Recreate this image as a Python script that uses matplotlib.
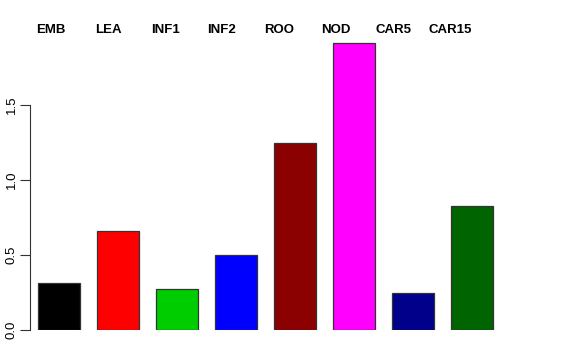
import matplotlib
matplotlib.use('Agg')
import matplotlib.pyplot as plt
import numpy as np

# tissue values
tissues = ['EMB', 'LEA', 'INF1', 'INF2', 'ROO', 'NOD', 'CAR5', 'CAR15']
values = [0.313, 0.66, 0.273, 0.503, 1.245, 1.913, 0.247, 0.827]
colors = ['black', 'red', '#00CD00', 'blue', '#8B0000', 'magenta', '#00008B', '#006400']
yticks = [0.0, 0.5, 1.0, 1.5]

plt.rcParams['font.family'] = ['Liberation Sans', 'DejaVu Sans']

W, H = 576, 360
fig = plt.figure(figsize=(W / 100, H / 100), dpi=100)

# axes placed in pixels: left spine at 30, y=0 at 330, y=2 at 30
left_px, right_px, bottom_px, top_px = 30, 546, 330, 30
ax = fig.add_axes([left_px / W, (H - bottom_px) / H,
                   (right_px - left_px) / W, (bottom_px - top_px) / H])

step = 59.0  # pixels per bar slot
x = np.arange(len(tissues))
ax.bar(x, values, width=0.71, color=colors, edgecolor='#333333', linewidth=0.9)
ax.set_xlim((left_px - 59) / step, (right_px - 59) / step)
ax.set_ylim(0, 2.0)

for s in ['top', 'right', 'bottom']:
    ax.spines[s].set_visible(False)
ax.spines['left'].set_bounds(0, 1.5)
ax.spines['left'].set_color('#333333')
ax.set_xticks([])
ax.set_yticks(yticks)
ax.set_yticklabels([f'{v:.1f}' for v in yticks], rotation=90, va='center', fontsize=9.5)
ax.tick_params(axis='y', length=7, width=0.8, color='#333333', pad=2)

# labels along the top
for i, t in enumerate(tissues):
    fig.text((51 + 57 * i) / W, (H - 30) / H, t, ha='center', va='center',
             fontsize=9.5, fontweight='bold')

fig.savefig('out.png', dpi=100)
